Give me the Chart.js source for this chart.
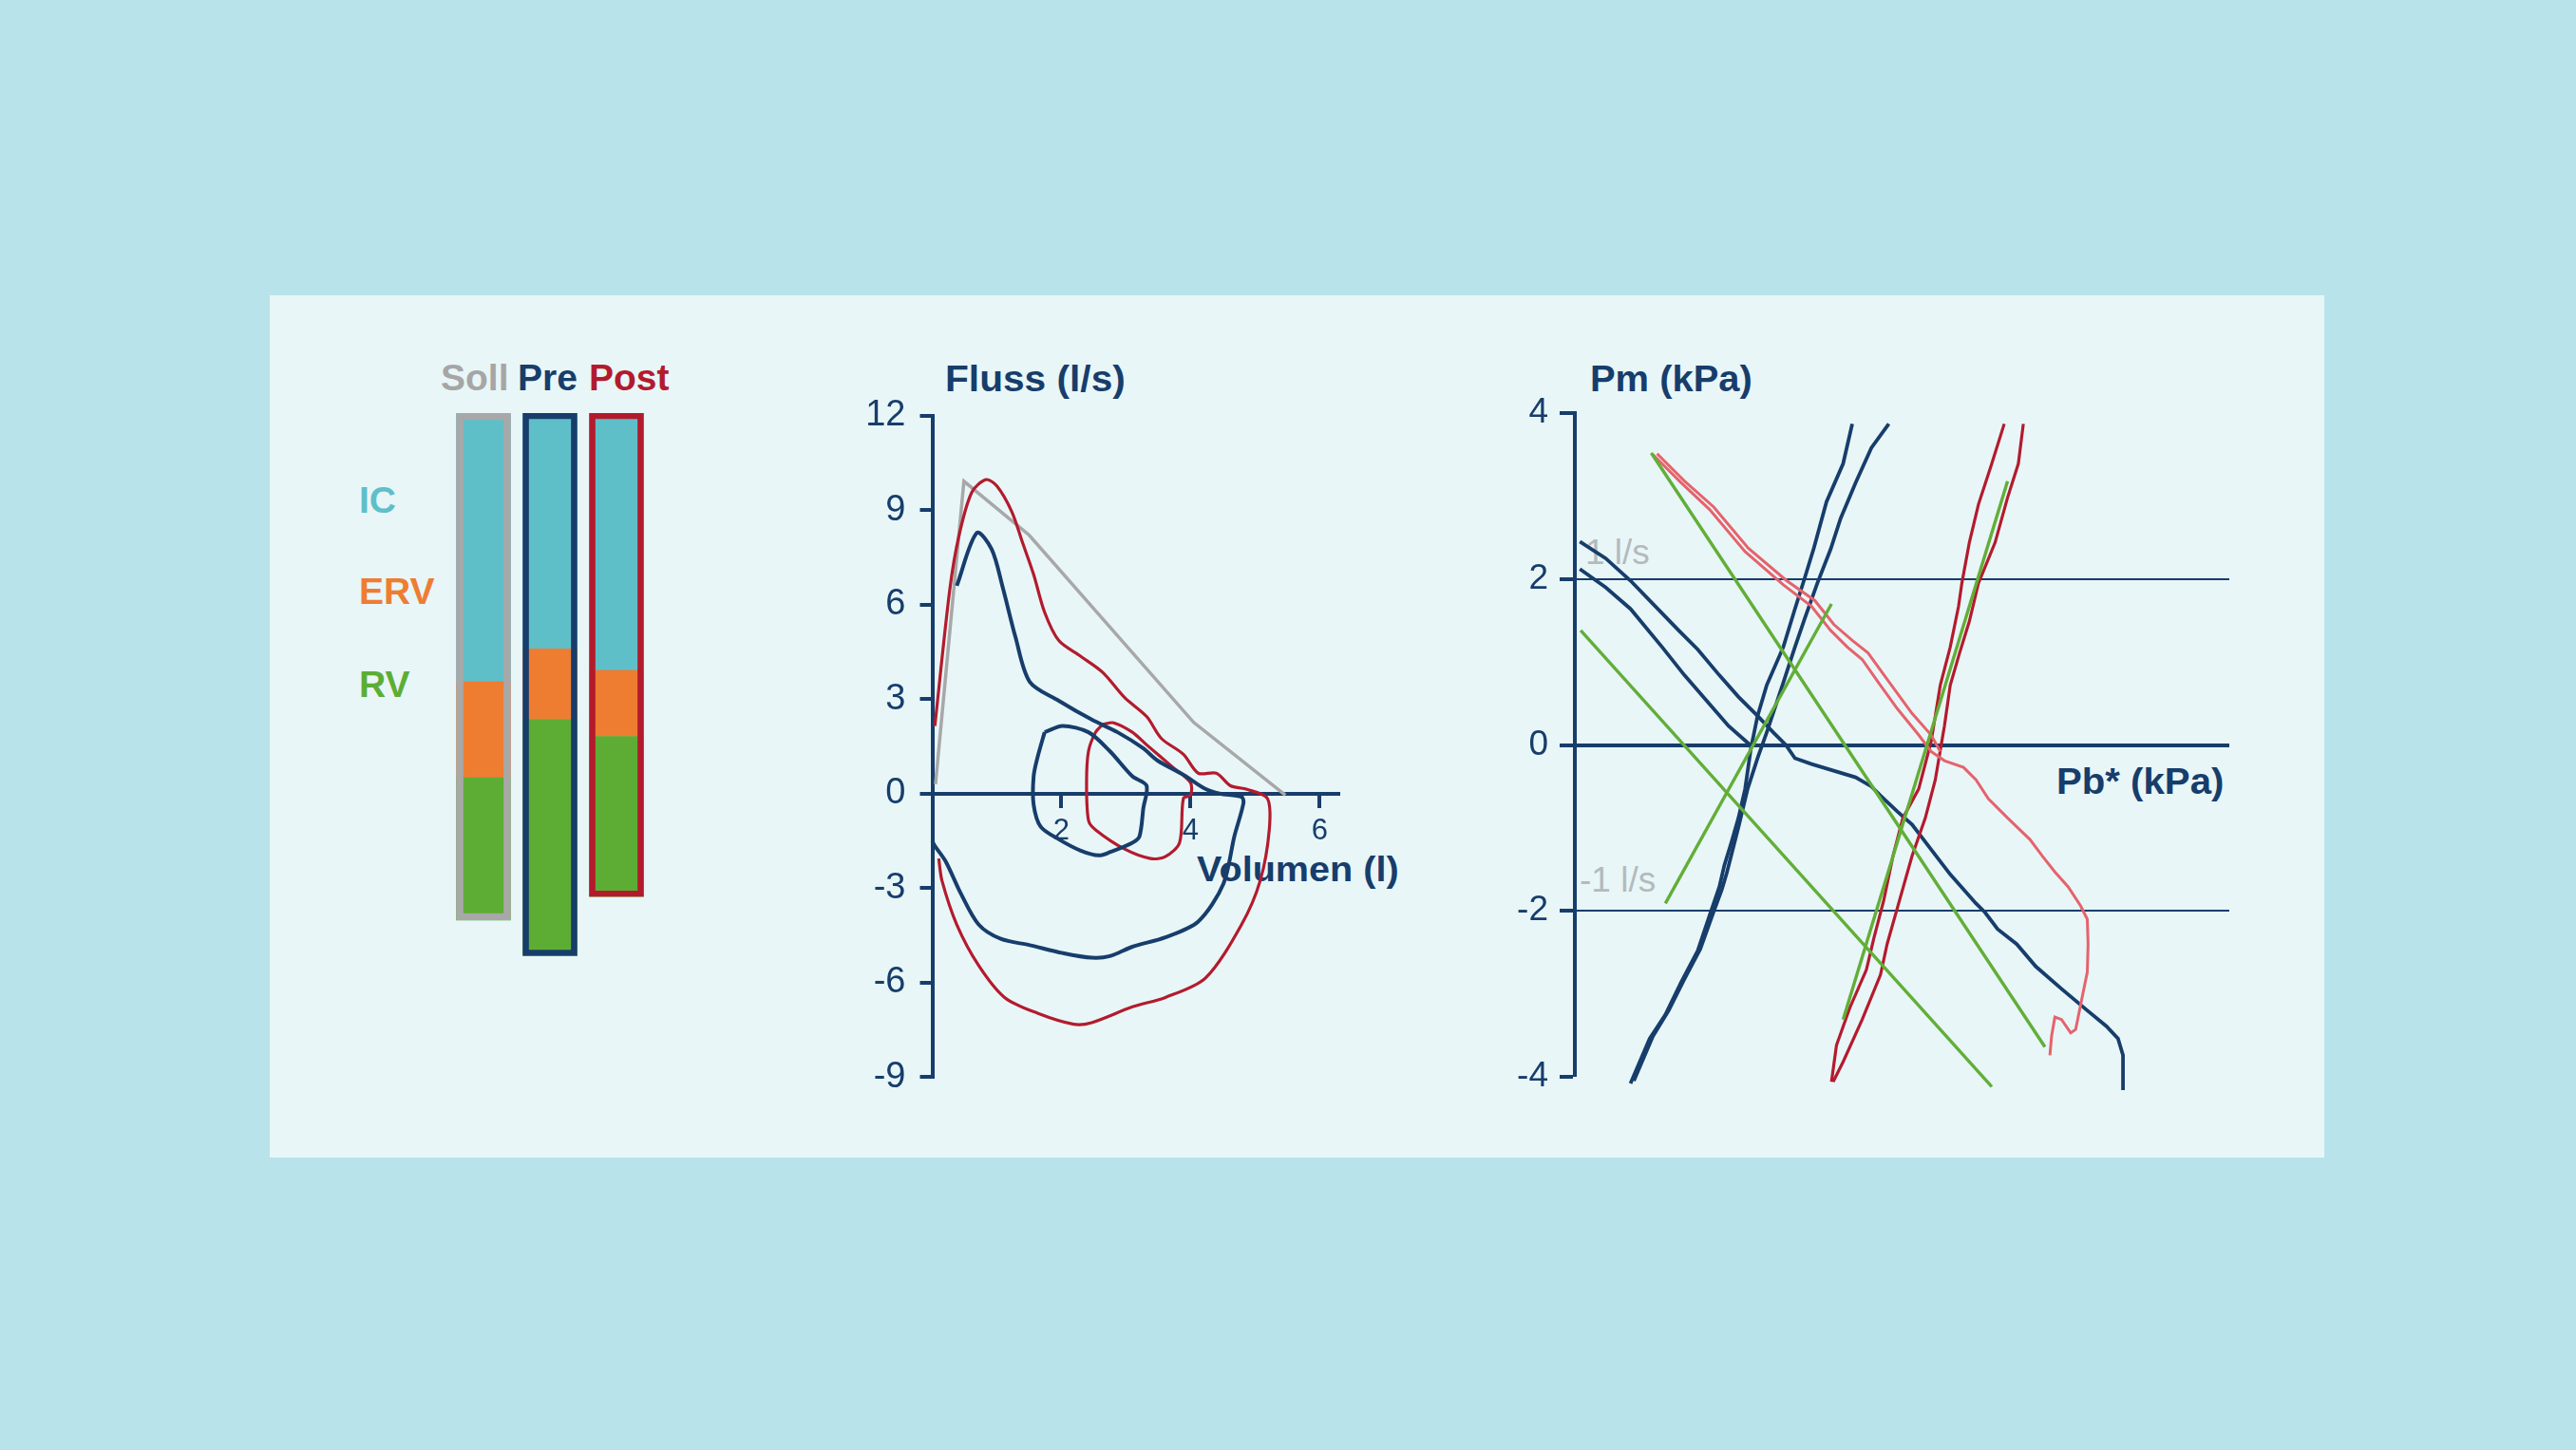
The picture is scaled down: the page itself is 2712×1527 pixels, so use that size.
<!DOCTYPE html>
<html><head><meta charset="utf-8">
<script src="https://cdn.jsdelivr.net/npm/chart.js@4.4.1/dist/chart.umd.min.js"></script>
<style>
html,body{margin:0;padding:0;}
body{width:2712px;height:1527px;background:#b9e3ea;position:relative;overflow:hidden;font-family:'Liberation Sans',Arial,sans-serif;}
#panel{position:absolute;left:284px;top:311px;width:2163px;height:908px;background:#e8f6f8;}
canvas{position:absolute;}
.t{position:absolute;line-height:1;white-space:nowrap;font-weight:bold;transform-origin:0 0;}
.g{position:absolute;line-height:1;white-space:nowrap;color:#b4babd;}
</style></head>
<body>
<div id="panel"></div>
<div class="t" style="left:464px;top:378px;font-size:39px;color:#a6a6a6">Soll</div>
<div class="t" style="left:545px;top:378px;font-size:39px;color:#173d6b">Pre</div>
<div class="t" style="left:620px;top:378px;font-size:39px;color:#b31b2d">Post</div>
<div class="t" style="left:378px;top:507px;font-size:39px;color:#5fbfc9">IC</div>
<div class="t" style="left:378px;top:603px;font-size:39px;color:#ee7d32">ERV</div>
<div class="t" style="left:378px;top:701px;font-size:39px;color:#5dad35">RV</div>
<div class="t" style="left:995px;top:380px;font-size:38px;color:#173d6b;transform:scaleX(1.07)">Fluss (l/s)</div>
<div class="t" style="left:1260px;top:898px;font-size:36px;color:#173d6b;transform:scaleX(1.1)">Volumen (l)</div>
<div class="t" style="left:1674px;top:380px;font-size:38px;color:#173d6b;transform:scaleX(1.05)">Pm (kPa)</div>
<div class="t" style="left:2165px;top:803px;font-size:39px;color:#173d6b;transform:scaleX(1.03)">Pb* (kPa)</div>
<div class="g" style="left:1669px;top:563px;font-size:37px">1 l/s</div>
<div class="g" style="left:1663px;top:908px;font-size:37px">-1 l/s</div>
<canvas id="bars" width="210" height="600" style="left:474px;top:435px"></canvas>
<canvas id="flow" width="560" height="780" style="left:880px;top:400px"></canvas>
<canvas id="press" width="820" height="780" style="left:1560px;top:400px"></canvas>
<script>
// ---------- colours ----------
const NAVY = '#173d6b', RED = '#b31b2d', PINK = '#e5636c', GREEN = '#62ae37',
      GRAY = '#a8a8a8', CYAN = '#5fbfc9', ORANGE = '#ee7d32', RVGREEN = '#5dad35';

// ---------- lung volumes (l) ----------
const barCats = ['Soll', 'Pre', 'Post'];
const icVol  = [3.77, 3.31, 3.61];
const ervVol = [1.35, 0.99, 0.93];
const rvVol  = [2.00, 3.32, 2.25];
const barFrameColors = [GRAY, NAVY, RED];

// ---------- flow-volume (V in l, F in l/s) ----------
const flowTicks = [-9, -6, -3, 0, 3, 6, 9, 12];
const volTicks = [2, 4, 6];
const sollFV = [[0.05,0.3],[0.49,9.92],[1.5,8.21],[4.05,2.26],[5.47,-0.05]];
const preFV = [[0.38,6.6],[0.69,8.28],[0.92,7.76],[1.09,6.56],[1.29,4.96],[1.51,3.55],[1.96,2.95],[2.47,2.35],[2.87,1.95],[3.26,1.45],[3.49,1.05],[3.89,0.6],[4.23,0.15],[4.45,0.0],[4.79,-0.1],[4.82,-0.3],[4.68,-1.35],[4.51,-2.86],[4.12,-4.06],[3.61,-4.56],[3.1,-4.86],[2.75,-5.16],[2.47,-5.21],[2.02,-5.06],[1.51,-4.81],[1.06,-4.61],[0.72,-4.16],[0.44,-3.16],[0.21,-2.16],[0.04,-1.66],[0,-1.5]];
const preTidal = [[1.74,1.95],[2.02,2.15],[2.42,1.95],[2.75,1.35],[3.1,0.55],[3.32,0.25],[3.27,-0.45],[3.21,-1.35],[3.1,-1.56],[2.75,-1.86],[2.58,-1.96],[2.3,-1.81],[1.96,-1.45],[1.68,-1.05],[1.57,-0.35],[1.57,0.55],[1.63,1.15],[1.74,1.95]];
const postFV = [[0.04,2.15],[0.27,6.46],[0.41,8.16],[0.61,9.56],[0.83,9.97],[1.0,9.77],[1.23,8.96],[1.4,7.96],[1.57,6.96],[1.74,5.76],[1.96,4.86],[2.3,4.36],[2.64,3.85],[2.98,3.05],[3.32,2.45],[3.55,1.75],[3.89,1.25],[4.12,0.65],[4.4,0.65],[4.62,0.25],[4.85,0.15],[5.19,-0.15],[5.22,-1.15],[5.08,-2.76],[4.79,-4.16],[4.23,-5.86],[3.61,-6.47],[3.1,-6.77],[2.47,-7.27],[2.19,-7.32],[1.63,-6.97],[1.12,-6.47],[0.72,-5.46],[0.38,-4.16],[0.15,-2.76],[0.1,-2.06]];
const postTidal = [[2.64,2.2],[2.81,2.25],[3.1,1.95],[3.32,1.55],[3.72,0.85],[4.0,0.35],[4.0,-0.05],[3.89,-0.15],[3.83,-1.56],[3.61,-2.0],[3.38,-2.06],[2.98,-1.76],[2.53,-1.15],[2.42,-0.85],[2.39,0.35],[2.42,1.35],[2.53,1.95],[2.64,2.2]];

// ---------- resistance loops (Pb* kPa, Pm kPa) ----------
const pmTicks = [-4, -2, 0, 2, 4];
const preLoopA = [[-2.14,2.45],[-1.83,2.25],[-1.53,1.98],[-1.23,1.67],[-0.95,1.38],[-0.72,1.15],[-0.46,0.84],[-0.23,0.58],[0,0.35],[0.19,0.15],[0.34,0],[0.45,-0.16],[0.65,-0.23],[1.18,-0.39],[1.37,-0.5],[1.48,-0.61],[1.68,-0.8],[1.86,-0.96],[2.09,-1.26],[2.32,-1.56],[2.63,-1.91],[2.74,-2.02],[2.89,-2.22],[3.12,-2.4],[3.35,-2.67],[3.66,-2.94],[3.97,-3.2],[4.2,-3.39],[4.34,-3.54],[4.4,-3.74],[4.4,-4.16]];
const preLoopB = [[-2.14,2.12],[-1.83,1.9],[-1.53,1.64],[-1.15,1.18],[-0.88,0.84],[-0.61,0.53],[-0.35,0.23],[-0.09,0]];
const preSteep1 = [[-1.53,-4.08],[-1.3,-3.54],[-1.11,-3.25],[-0.92,-2.86],[-0.72,-2.48],[-0.58,-2.06],[-0.46,-1.71],[-0.4,-1.45],[-0.32,-1.19],[-0.23,-0.88],[-0.15,-0.53],[-0.08,-0.04],[0,0.35],[0.11,0.72],[0.31,1.18],[0.45,1.64],[0.57,2.02],[0.68,2.38],[0.83,2.93],[1.03,3.39],[1.14,3.87]];
const preSteep2 = [[-1.49,-4.05],[-1.26,-3.51],[-1.07,-3.2],[-0.88,-2.82],[-0.69,-2.46],[-0.54,-2.04],[-0.43,-1.74],[-0.37,-1.54],[-0.23,-0.99],[-0.12,-0.53],[0,-0.16],[0.11,0.15],[0.31,0.75],[0.45,1.18],[0.57,1.53],[0.72,1.95],[0.88,2.36],[1,2.73],[1.18,3.16],[1.37,3.58],[1.58,3.87]];
const postLoop1 = [[-1.26,3.5],[-0.92,3.16],[-0.58,2.84],[-0.15,2.33],[0.31,1.93],[0.65,1.67],[0.88,1.38],[1.08,1.18],[1.26,1.03],[1.45,0.76],[1.68,0.44],[1.94,0.12],[2.09,-0.08],[2.25,-0.19],[2.48,-0.27],[2.63,-0.42],[2.78,-0.65],[3.01,-0.88],[3.28,-1.14],[3.43,-1.34],[3.58,-1.53],[3.74,-1.71],[3.89,-1.94],[3.97,-2.1],[3.98,-2.4],[3.97,-2.74],[3.89,-3.13],[3.83,-3.43],[3.77,-3.47],[3.66,-3.31],[3.58,-3.28],[3.54,-3.51],[3.52,-3.74]];
const postLoop2 = [[-1.21,3.51],[-0.88,3.18],[-0.53,2.87],[-0.11,2.37],[0.35,1.98],[0.69,1.74],[0.92,1.45],[1.14,1.26],[1.33,1.11],[1.51,0.86],[1.86,0.38],[2.09,0.12],[2.2,-0.08]];
const postSteepL = [[2.97,3.87],[2.82,3.39],[2.66,2.9],[2.55,2.44],[2.46,1.95],[2.42,1.67],[2.32,1.18],[2.2,0.72],[2.09,0.04],[1.94,-0.53],[1.75,-0.88],[1.63,-1.34],[1.52,-1.87],[1.4,-2.33],[1.31,-2.71],[1.11,-3.17],[0.95,-3.62],[0.89,-4.06]];
const postSteepR = [[3.2,3.87],[3.14,3.39],[3.01,2.98],[2.86,2.44],[2.66,1.95],[2.55,1.49],[2.43,1.1],[2.32,0.72],[2.25,0.23],[2.14,-0.42],[2.02,-0.88],[1.86,-1.34],[1.71,-1.87],[1.56,-2.4],[1.48,-2.77],[1.26,-3.31],[1.03,-3.82],[0.91,-4.06]];
const fitLine1 = [[-1.28,3.52],[3.46,-3.64]];
const fitLine2 = [[-2.13,1.38],[2.82,-4.12]];
const fitLine3 = [[-1.11,-1.91],[0.89,1.7]];
const fitLine4 = [[1.03,-3.31],[3.01,3.18]];

Chart.defaults.font.family = "'Liberation Sans', Arial, sans-serif";
const pts = a => a.map(p => ({x: p[0], y: p[1]}));
const noPlug = {legend: {display: false}, tooltip: {enabled: false}};

// ---------- bars ----------
const totals = icVol.map((v, i) => v + ervVol[i] + rvVol[i]);
new Chart(document.getElementById('bars'), {
  type: 'bar',
  data: {
    labels: barCats,
    datasets: [
      {data: icVol.map(v => [0, v]), backgroundColor: CYAN, order: 3},
      {data: icVol.map((v, i) => [v, v + ervVol[i]]), backgroundColor: ORANGE, order: 2},
      {data: icVol.map((v, i) => [v + ervVol[i], totals[i]]), backgroundColor: RVGREEN, order: 1},
      {data: totals.map(t => [0, t]), backgroundColor: 'rgba(0,0,0,0)', borderColor: barFrameColors,
       borderWidth: [7, 6, 6], borderSkipped: false, order: 0}
    ]
  },
  options: {
    responsive: false, animation: false,
    datasets: {bar: {grouped: false, barThickness: 57}},
    layout: {padding: 0},
    plugins: noPlug,
    scales: {x: {display: false}, y: {display: false, reverse: true, min: 0, max: 8}}
  }
});

// ---------- flow-volume ----------
const line = (d, c, w, t) => ({data: pts(d), borderColor: c, borderWidth: w, showLine: true,
  pointRadius: 0, tension: t || 0, clip: false, fill: false});
new Chart(document.getElementById('flow'), {
  type: 'scatter',
  data: {datasets: [
    line(preFV, NAVY, 4, 0.3), line(preTidal, NAVY, 4, 0.3),
    line(postFV, RED, 3.2, 0.3), line(postTidal, RED, 3.2, 0.3),
    line(sollFV, GRAY, 3.5, 0)
  ]},
  options: {
    responsive: false, animation: false,
    layout: {padding: {left: 0, right: 31, top: 35.7, bottom: 45.7}},
    plugins: noPlug,
    scales: {
      x: {type: 'linear', position: {y: 0}, min: 0, max: 6.29,
          afterBuildTicks: s => { s.ticks = volTicks.map(v => ({value: v})); },
          ticks: {color: NAVY, font: {size: 31}, padding: 8, autoSkip: false, maxRotation: 0},
          grid: {drawOnChartArea: false, tickLength: 13, lineWidth: 4, color: NAVY},
          border: {color: NAVY, width: 4}},
      y: {type: 'linear', min: -9, max: 12,
          afterBuildTicks: s => { s.ticks = flowTicks.map(v => ({value: v})); },
          afterFit: s => { s.width = 101.5; },
          ticks: {color: NAVY, font: {size: 38}, padding: 15, autoSkip: false},
          grid: {drawOnChartArea: false, tickLength: 13, lineWidth: 4, color: NAVY},
          border: {color: NAVY, width: 4}}
    }
  }
});

// ---------- resistance loops ----------
new Chart(document.getElementById('press'), {
  type: 'scatter',
  data: {datasets: [
    line(fitLine1, GREEN, 3.4), line(fitLine2, GREEN, 3.4), line(fitLine3, GREEN, 3.4), line(fitLine4, GREEN, 3.4),
    line(postLoop1, PINK, 3), line(postLoop2, PINK, 3),
    line(postSteepL, RED, 3.2), line(postSteepR, RED, 3.2),
    line(preLoopA, NAVY, 3.8), line(preLoopB, NAVY, 3.8),
    line(preSteep1, NAVY, 3.8), line(preSteep2, NAVY, 3.8)
  ]},
  options: {
    responsive: false, animation: false,
    layout: {padding: {left: 0, right: 33, top: 35, bottom: 46}},
    plugins: noPlug,
    scales: {
      x: {type: 'linear', display: false, min: -2.2, max: 5.68},
      y: {type: 'linear', min: -4, max: 4,
          afterBuildTicks: s => { s.ticks = pmTicks.map(v => ({value: v})); },
          afterFit: s => { s.width = 98; },
          ticks: {color: NAVY, font: {size: 37}, padding: 12, autoSkip: false},
          grid: {drawOnChartArea: true, tickLength: 16, color: NAVY, tickColor: NAVY, tickWidth: 4,
                 lineWidth: c => (c.tick && c.tick.value === 0) ? 4 : ((c.tick && Math.abs(c.tick.value) === 2) ? 2 : 0)},
          border: {color: NAVY, width: 4}}
    }
  }
});
</script>
</body></html>
